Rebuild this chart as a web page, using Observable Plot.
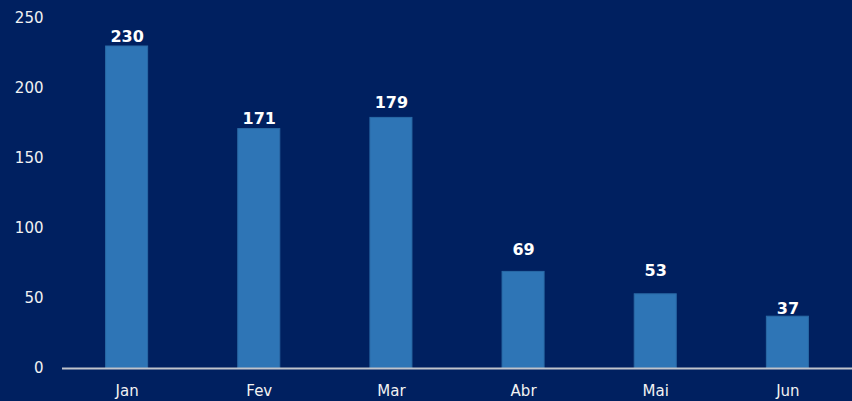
<!DOCTYPE html>
<html>
<head>
<meta charset="utf-8">
<script src="https://cdn.jsdelivr.net/npm/d3@7"></script>
<script src="https://cdn.jsdelivr.net/npm/@observablehq/plot@0.6"></script>
<style>
  html, body { margin: 0; padding: 0; background: #002060; }
  #chart { width: 852px; height: 401px; overflow: hidden; }
</style>
</head>
<body>
<div id="chart"></div>
<script>
const months = ["Jan", "Fev", "Mar", "Abr", "Mai", "Jun"];
const values = [230, 171, 179, 69, 53, 37];
const yTicks = [0, 50, 100, 150, 200, 250];

const data = months.map((m, i) => ({month: m, value: values[i]}));
// label gaps above each bar (style, in pixels)
const labelGap = [10, 10, 15, 22, 23, 8];

const chart = Plot.plot({
  width: 852,
  height: 401,
  marginLeft: 62,
  marginRight: 0,
  marginTop: 18,
  marginBottom: 33,
  style: {background: "#002060", color: "#f2f2f2", fontFamily: "DejaVu Sans, sans-serif", fontSize: "15px", overflow: "hidden"},
  x: {domain: months, paddingInner: 0.682, paddingOuter: 0.33, round: false, label: null},
  y: {domain: [0, 250], label: null},
  marks: [
    Plot.barY(data, {x: "month", y: "value", fill: "#2e75b6", stroke: "#2a6aa6", strokeWidth: 1}),
    Plot.ruleY([0], {stroke: "#c0c4cc", strokeWidth: 2}),
    ...data.map((d, i) => Plot.text([d], {x: "month", y: "value", text: d => String(d.value), dy: -labelGap[i], fill: "#ffffff", fontWeight: "bold", fontSize: 16})),
    Plot.axisY(yTicks, {tickSize: 0, tickPadding: 19, label: null, fill: "#f2f2f2", fontSize: 15}),
    Plot.axisX({tickSize: 0, tickPadding: 17, label: null, fill: "#f2f2f2", fontSize: 15})
  ]
});
document.getElementById("chart").appendChild(chart);
</script>
</body>
</html>
